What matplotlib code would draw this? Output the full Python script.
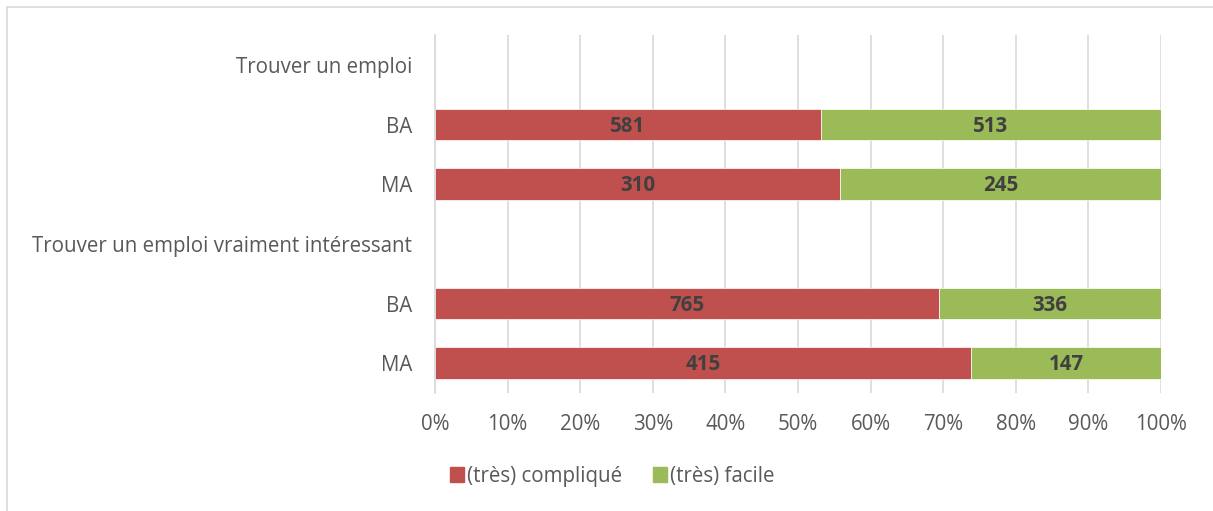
import numpy as np
import matplotlib
matplotlib.use("Agg")
import matplotlib.pyplot as plt
from matplotlib.patches import Rectangle

# Categories from top to bottom (group headers have no bars)
categories = ["Trouver un emploi", "BA", "MA",
              "Trouver un emploi vraiment intéressant", "BA", "MA"]

# Counts per answer (None for the header rows)
complique = [None, 581, 310, None, 765, 415]
facile = [None, 513, 245, None, 336, 147]

series_names = ["(très) compliqué", "(très) facile"]
colors = ["#C0504D", "#9BBB59"]
xtick_labels = ["0%", "10%", "20%", "30%", "40%", "50%", "60%", "70%", "80%", "90%", "100%"]

plt.rcParams['font.family'] = ['Open Sans', 'DejaVu Sans']
text_col = "#595959"
fs = 14.8

fig = plt.figure(figsize=(12.13, 5.11), dpi=100)
ax = fig.add_axes([0.3586, 0.2309, 0.5985, 0.7006])

# light border around the chart area
fig.patches.append(Rectangle((7 / 1213, -0.1), 1.2, 1 - 7 / 511 + 0.1,
                             transform=fig.transFigure, fill=False,
                             edgecolor="#D9D9D9", linewidth=1.2))

y = np.arange(len(categories))
for i in range(len(categories)):
    if complique[i] is None:
        continue
    total = complique[i] + facile[i]
    p1 = complique[i] / total
    p2 = facile[i] / total
    ax.barh(y[i], p1, height=0.53, color=colors[0], edgecolor="white", linewidth=0.5)
    ax.barh(y[i], p2, left=p1, height=0.53, color=colors[1], edgecolor="white", linewidth=0.5)
    ax.text(p1 / 2, y[i] + 0.03, str(complique[i]), ha="center", va="center",
            fontsize=fs, fontweight="bold", color="#404040")
    ax.text(p1 + p2 / 2, y[i] + 0.03, str(facile[i]), ha="center", va="center",
            fontsize=fs, fontweight="bold", color="#404040")

ax.set_xlim(0, 1)
ax.set_ylim(len(categories) - 0.5, -0.5)
ax.set_yticks(y)
ax.set_yticklabels(categories, fontsize=fs, color=text_col)
ax.set_xticks(np.linspace(0, 1, 11))
ax.set_xticklabels(xtick_labels, fontsize=fs, color=text_col)
ax.tick_params(axis="both", length=0)
ax.tick_params(axis="y", pad=16.5)
ax.tick_params(axis="x", pad=15)

ax.grid(axis="x", color="#D9D9D9", linewidth=1.2)
ax.set_axisbelow(True)
for s in ["top", "right", "bottom"]:
    ax.spines[s].set_visible(False)
ax.spines["left"].set_color("#D9D9D9")
ax.spines["left"].set_linewidth(1.2)

handles = [Rectangle((0, 0), 1, 1, color=c) for c in colors]
fig.legend(handles, series_names, loc="center", bbox_to_anchor=(0.505, 0.068),
           ncol=2, frameon=False, fontsize=fs, handlelength=0.68, handleheight=0.68,
           handletextpad=0.15, columnspacing=1.5, labelcolor=text_col)

fig.savefig("out.png", dpi=100)
